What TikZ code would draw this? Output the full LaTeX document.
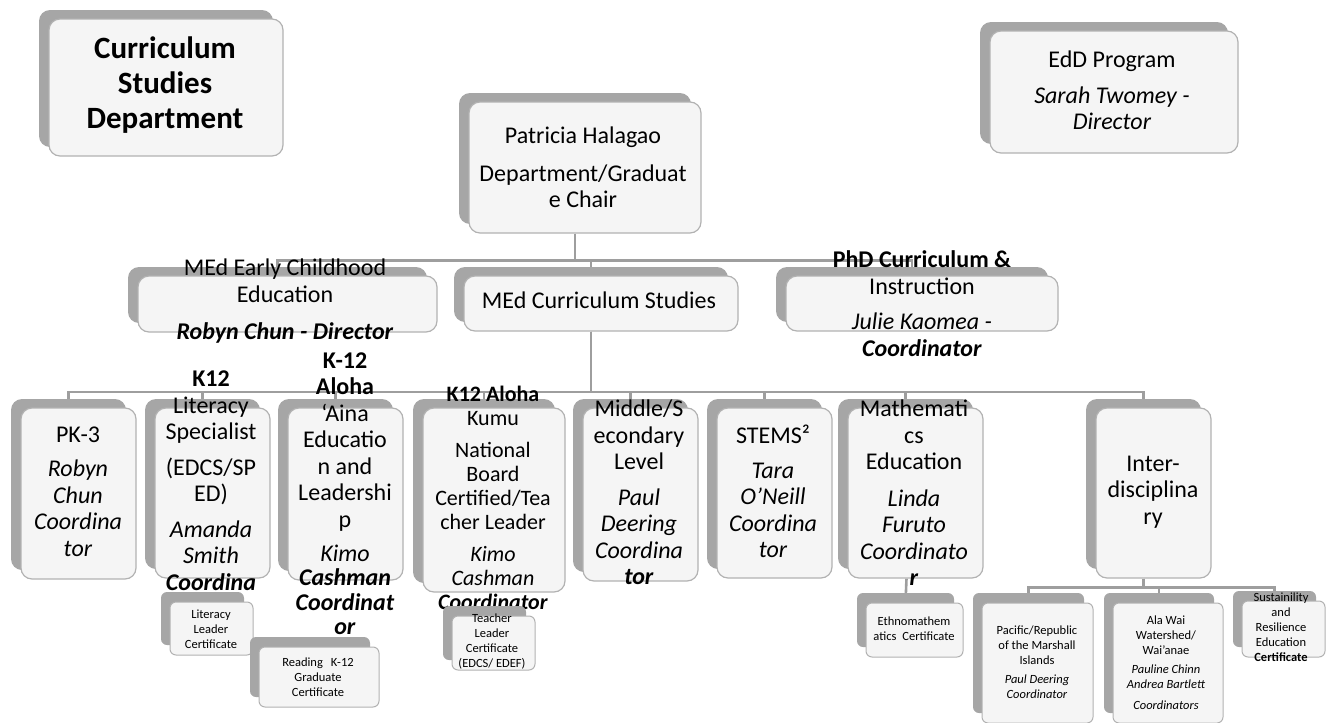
\documentclass[tikz,border=0pt]{standalone}
\usepackage{fontspec}
\setmainfont{Carlito}
\usetikzlibrary{shadows}
\usetikzlibrary{backgrounds}

\begin{document}
\begin{tikzpicture}[line cap=round,line join=round,x=1pt,y=-1pt,
  card/.style={draw=black!30, line width=1.2pt, fill=black!4, rounded corners=11pt, inner sep=0pt,
    general shadow={shadow xshift=-10pt, shadow yshift=9pt, fill=black!35}},
  chip/.style={draw=black!30, line width=1pt, fill=black!4, rounded corners=6pt, inner sep=0pt,
    general shadow={shadow xshift=-9pt, shadow yshift=10pt, fill=black!35}},
  wh/.style 2 args={minimum width=#1, minimum height=#2},
  lbl/.style={align=center, inner sep=0pt, font=\fontsize{24}{26.5}\selectfont},
  sml/.style={align=center, inner sep=0pt, font=\fontsize{12.5}{15}\selectfont},
  link/.style={draw=black!38, line width=2.6pt}]
\useasboundingbox (0,0) rectangle (1334,723);

% top row
\node[card, wh={234}{137}] (dept) at (166,87.5) {};
\node[lbl, font=\fontsize{31}{35}\selectfont\bfseries] (deptt) at (165,85.5) {Curriculum\\Studies\\Department};
\node[card, wh={232}{131}] (chair) at (585,167.5) {};
\node[lbl] (chairt) at (583,167.5) {Patricia Halagao\\[11pt]Department/Graduat\\e Chair};
\node[card, wh={248}{122}] (edd) at (1114,92) {};
\node[lbl] (eddt) at (1112,90.5) {EdD Program\\[9pt]\textit{Sarah Twomey -}\\\textit{Director}};

% programs
\node[card, wh={299}{56}] (mec) at (287.5,304) {};
\node[lbl] (mect) at (285,301.5) {MEd Early Childhood\\Education\\[11pt]\textbf{\textit{Robyn Chun - Director}}};
\node[card, wh={274}{55}] (mcs) at (601,303.5) {};
\node[lbl] (mcst) at (599,300) {MEd Curriculum Studies};
\node[card, wh={272}{55}] (phd) at (922,303.5) {};
\node[lbl] (phdt) at (922,303.5) {\textbf{PhD Curriculum \&}\\Instruction\\[9pt]\textit{Julie Kaomea -}\\\textbf{\textit{Coordinator}}};

% tracks
\node[card, wh={115}{171}] (pk) at (78.5,493.5) {};
\node[lbl] (pkt) at (78,491.5) {PK-3\\[8pt]\textit{Robyn}\\\textit{Chun}\\\textit{Coordina}\\\textit{tor}};
\node[card, wh={115}{170}] (lit) at (212.5,493) {};
\node[lbl] (litt) at (211,480.5) {\textbf{K12}\\Literacy\\Specialist\\[9pt](EDCS/SP\\ED)\\[9pt]\textit{Amanda}\\\textit{Smith}\\\textbf{\textit{Coordina}}};
\node[card, wh={115}{172}] (aina) at (345.5,494) {};
\node[lbl] (ainat) at (345,493.5) {\textbf{K-12}\\\textbf{Aloha}\\‘Aina\\Educatio\\n and\\Leadershi\\p\\[7.5pt]\textit{Kimo}\\[-2pt]\textbf{\textit{Cashman}}\\[-2pt]\textbf{\textit{Coordinat}}\\[-2pt]\textbf{\textit{or}}};
\node[card, wh={142}{184}] (kumu) at (494,500) {};
\node[lbl, font=\fontsize{22}{24}\selectfont] (kumut) at (493,497.5) {\textbf{K12 Aloha}\\Kumu\\[8pt]National\\Board\\Certified/Tea\\cher Leader\\[8pt]\textit{Kimo}\\\textit{Cashman}\\\textbf{\textit{Coordinator}}};
\node[card, wh={115}{173}] (mid) at (640.5,494.5) {};
\node[lbl] (midt) at (639,492.5) {Middle/S\\econdary\\Level\\[9pt]\textit{Paul}\\\textit{Deering}\\\textit{Coordina}\\\textbf{\textit{tor}}};
\node[card, wh={115}{170}] (stem) at (774.5,493) {};
\node[lbl] (stemt) at (773,491.5) {STEMS²\\[8pt]\textit{Tara}\\\textit{O{\char"27}Neill}\\\textit{Coordina}\\\textit{tor}};
\node[card, wh={135}{170}] (math) at (915.5,493) {};
\node[lbl] (matht) at (914,493) {Mathemati\\cs\\Education\\[10pt]\textit{Linda}\\\textit{Furuto}\\\textit{Coordinato}\\\textbf{\textit{r}}};
\node[card, wh={115}{170}] (inter) at (1153.5,493) {};
\node[lbl] (intert) at (1153,492) {Inter-\\disciplina\\ry};

% certificates
\node[chip, wh={83}{53}] (litcert) at (211.5,628.5) {};
\node[sml] (litcertt) at (211,629) {Literacy\\Leader\\Certificate};
\node[chip, wh={120}{60}] (readcert) at (319,677) {};
\node[sml] (readcertt) at (318,677.5) {Reading\hspace{8pt}K-12\\Graduate\\Certificate};
\node[chip, wh={83}{54}] (tlcert) at (493.5,643) {};
\node[sml] (tlcertt) at (492,642) {Teacher\\Leader\\Certificate\\(EDCS/ EDEF)};
\node[chip, wh={97}{54}] (ethno) at (914.5,630) {};
\node[sml] (ethnot) at (914,629) {Ethnomathem\\atics\hspace{6pt}Certificate};
\node[chip, wh={111}{120}] (pacific) at (1037.5,663) {};
\node[sml] (pacifict) at (1037,662) {Pacific/Republic\\of the Marshall\\Islands\\[4pt]\textit{Paul Deering}\\\textit{Coordinator}};
\node[chip, wh={110}{120}] (alawai) at (1168,663) {};
\node[sml] (alawait) at (1166,662.5) {Ala Wai\\Watershed/\\Wai’anae\\[4pt]\textit{Pauline Chinn}\\\textit{Andrea Bartlett}\\[6pt]\textit{Coordinators}};
\node[chip, wh={83}{56}] (sustain) at (1283.5,629) {};
\node[sml] (sustaint) at (1281,627.5) {Sustainility\\and\\Resilience\\Education\\\textbf{Certificate}};

% connectors
\begin{scope}[on background layer]
\foreach \n in {mec,mcs,phd}
  \draw[link] ([xshift=-10pt]chair.south) -- ++(0,27) -| ([xshift=-10pt]\n.north);
\foreach \n in {pk,lit,aina,kumu,mid,stem,math,inter}
  \draw[link] ([xshift=-10pt]mcs.south) -- ++(0,60.5) -| ([xshift=-10pt]\n.north);
\draw[link] ([xshift=-9pt]math.south) -- ([xshift=-9pt]ethno.north);
\foreach \n in {pacific,alawai,sustain}
  \draw[link] ([xshift=-10pt]inter.south) -- ++(0,9) -| ([xshift=-9pt]\n.north);
\end{scope}
\end{tikzpicture}
\end{document}
